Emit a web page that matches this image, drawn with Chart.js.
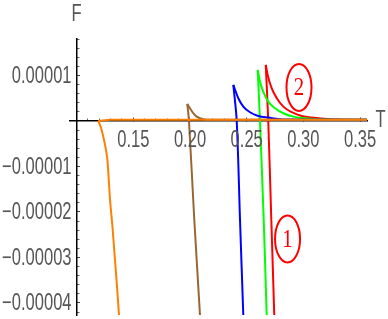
<!DOCTYPE html>
<html>
<head>
<meta charset="utf-8">
<script src="https://cdn.jsdelivr.net/npm/chart.js@4/dist/chart.umd.min.js"></script>
<style>
html, body { margin: 0; padding: 0; background: #fff; }
canvas { display: block; }
</style>
</head>
<body>
<canvas id="fchart" width="388" height="319"></canvas>
<script>
// values: T on the x axis, F on the y axis
// each colour = a steep branch (peak -> bottom) and a tail (peak -> right end)
var orangeSteepT = [0.1191, 0.1206, 0.1221, 0.1242, 0.1259, 0.1272, 0.1295, 0.1315, 0.1332, 0.1352, 0.1374, 0.1378];
var orangeSteepF = [0, -0.88e-6, -1.98e-6, -4.18e-6, -6.37e-6, -8.57e-6, -1.736e-5, -2.286e-5, -2.835e-5, -3.495e-5, -4.264e-5, -4.48e-5];
var orangeTailT = [0.1191, 0.13, 0.356];
var orangeTailF = [0, 2.5e-7, 2.5e-7];

var brownSteepT = [0.1976, 0.1991, 0.2038, 0.2088, 0.2091];
var brownSteepF = [3.74e-6, 0, -2.176e-5, -4.264e-5, -4.48e-5];
var brownTailT = [0.1976, 0.2005, 0.2034, 0.2059, 0.2117, 0.2205, 0.356];
var brownTailF = [3.74e-6, 2.57e-6, 1.54e-6, 9.45e-7, 3.7e-7, 2.5e-7, 2.5e-7];

var blueSteepT = [0.2382, 0.2412, 0.2441, 0.2470, 0.2473];
var blueSteepF = [7.91e-6, 0, -2.176e-5, -4.264e-5, -4.48e-5];
var blueTailT = [0.2382, 0.2426, 0.2470, 0.2529, 0.2602, 0.2690, 0.2838, 0.356];
var blueTailF = [7.91e-6, 4.99e-6, 3.14e-6, 1.91e-6, 1.10e-6, 7.3e-7, 3.0e-7, 2.5e-7];

var greenSteepT = [0.2597, 0.2617, 0.2650, 0.2676, 0.2678];
var greenSteepF = [1.121e-5, 0, -2.176e-5, -4.264e-5, -4.48e-5];
var greenTailT = [0.2597, 0.2617, 0.2646, 0.2690, 0.2750, 0.2823, 0.2911, 0.3014, 0.3146, 0.356];
var greenTailF = [1.121e-5, 8.64e-6, 6.44e-6, 4.24e-6, 2.79e-6, 1.69e-6, 9.45e-7, 5.9e-7, 3.2e-7, 2.5e-7];

var redSteepT = [0.2668, 0.2690, 0.2717, 0.2743, 0.2745];
var redSteepF = [1.231e-5, 0, -2.176e-5, -4.264e-5, -4.48e-5];
var redTailT = [0.2668, 0.2685, 0.2720, 0.2765, 0.2823, 0.2897, 0.2985, 0.3073, 0.3235, 0.356];
var redTailF = [1.231e-5, 1.011e-5, 7.19e-6, 4.99e-6, 3.14e-6, 1.91e-6, 1.10e-6, 7.3e-7, 3.8e-7, 2.5e-7];

// axes
var xMin = 0.0942, xMax = 0.3565, yMin = -4.264e-5, yMax = 1.80e-5;
var xTickValues = [0.15, 0.20, 0.25, 0.30, 0.35];
var xTickLabels = ['0.15', '0.20', '0.25', '0.30', '0.35'];
var yTickValues = [1e-5, -1e-5, -2e-5, -3e-5, -4e-5];
var yTickLabels = ['0.00001', '\u22120.00001', '\u22120.00002', '\u22120.00003', '\u22120.00004'];

// circled curve numbers
var noteLabels = ['1', '2'];
var noteT = [0.2860, 0.2961];
var noteF = [-2.593e-5, 0.736e-5];

var minorX = [];
for (var i = 11; i <= 35; i++) { if (i % 5 != 0) minorX.push(i / 100); }
var minorY = [];
for (var j = -21; j <= 9; j++) { if (j % 5 != 0) minorY.push(j * 2e-6); }

function pts(ts, fs) {
  return ts.map(function (t, k) { return { x: t, y: fs[k] }; });
}

function steep(ts, fs, col) {
  return { data: pts(ts, fs), borderColor: col, borderWidth: 2, pointRadius: 0, showLine: true, tension: 0.3, fill: false };
}
function tail(ts, fs, col) {
  return { data: pts(ts, fs), borderColor: col, borderWidth: 2, pointRadius: 0, showLine: true, cubicInterpolationMode: 'monotone', fill: false };
}

// squeezed text, the picture's type is narrow
function squeezed(ctx, text, x, y, align, sx) {
  ctx.save();
  ctx.translate(x, y);
  ctx.scale(sx, 1);
  ctx.textAlign = align;
  ctx.fillText(text, 0, 0);
  ctx.restore();
}

var textPlugin = {
  id: 'mmaText',
  afterDraw: function (chart) {
    var ctx = chart.ctx, xs = chart.scales.x, ys = chart.scales.y;
    var y0 = ys.getPixelForValue(0), x0 = xs.getPixelForValue(0.10);
    ctx.save();
    ctx.fillStyle = '#555555';
    ctx.textBaseline = 'middle';
    ctx.font = '23px "Liberation Sans", Arial, sans-serif';
    xTickValues.forEach(function (v, k) {
      squeezed(ctx, xTickLabels[k], xs.getPixelForValue(v), y0 + 20, 'center', 0.72);
    });
    yTickValues.forEach(function (v, k) {
      squeezed(ctx, yTickLabels[k], x0 - 5, ys.getPixelForValue(v) + 1, 'right', 0.72);
    });
    squeezed(ctx, 'F', x0, 15, 'center', 0.72);
    squeezed(ctx, 'T', xs.right + 13, y0, 'center', 0.72);

    ctx.strokeStyle = '#ff0000';
    ctx.fillStyle = '#ff0000';
    ctx.lineWidth = 2;
    ctx.font = '26px "Liberation Serif", "Times New Roman", serif';
    noteLabels.forEach(function (lab, k) {
      var cx = xs.getPixelForValue(noteT[k]), cy = ys.getPixelForValue(noteF[k]);
      ctx.beginPath();
      ctx.ellipse(cx, cy, 12.5, 23.5, 0, 0, Math.PI * 2);
      ctx.stroke();
      squeezed(ctx, lab, cx, cy + 1, 'center', 0.8);
    });
    ctx.restore();
  }
};

const ctx = document.getElementById('fchart');

var fChart = new Chart(ctx, {
  type: 'scatter',
  data: {
    datasets: [
      tail(orangeTailT, orangeTailF, '#ff8000'),
      steep(orangeSteepT, orangeSteepF, '#ff8000'),
      tail(brownTailT, brownTailF, '#996633'),
      steep(brownSteepT, brownSteepF, '#996633'),
      tail(blueTailT, blueTailF, '#0000ff'),
      steep(blueSteepT, blueSteepF, '#0000ff'),
      tail(greenTailT, greenTailF, '#00ff00'),
      steep(greenSteepT, greenSteepF, '#00ff00'),
      tail(redTailT, redTailF, '#ff0000'),
      steep(redSteepT, redSteepF, '#ff0000')
    ]
  },
  options: {
    responsive: false,
    animation: false,
    devicePixelRatio: 1,
    layout: { padding: { left: 70, right: 20.5, top: 39, bottom: 4 } },
    plugins: { legend: { display: false }, tooltip: { enabled: false }, title: { display: false } },
    scales: {
      x: {
        type: 'linear', position: { y: 0 }, min: xMin, max: xMax,
        afterBuildTicks: function (s) { s.ticks = xTickValues.map(function (v) { return { value: v }; }); },
        ticks: { display: false },
        grid: { drawOnChartArea: false, drawTicks: true, tickLength: -4, color: '#444' },
        border: { display: true, color: '#000', width: 1.5 }
      },
      x2: {
        type: 'linear', axis: 'x', position: { y: 0 }, min: xMin, max: xMax,
        afterBuildTicks: function (s) { s.ticks = minorX.map(function (v) { return { value: v }; }); },
        ticks: { display: false },
        grid: { drawOnChartArea: false, drawTicks: true, tickLength: -2.5, color: '#666' },
        border: { display: false }
      },
      y: {
        type: 'linear', position: { x: 0.10 }, min: yMin, max: yMax,
        afterBuildTicks: function (s) { s.ticks = yTickValues.map(function (v) { return { value: v }; }); },
        ticks: { display: false },
        grid: { drawOnChartArea: false, drawTicks: true, tickLength: -4, color: '#444' },
        border: { display: true, color: '#000', width: 1.5 }
      },
      y2: {
        type: 'linear', axis: 'y', position: { x: 0.10 }, min: yMin, max: yMax,
        afterBuildTicks: function (s) { s.ticks = minorY.map(function (v) { return { value: v }; }); },
        ticks: { display: false },
        grid: { drawOnChartArea: false, drawTicks: true, tickLength: -2.5, color: '#666' },
        border: { display: false }
      }
    }
  },
  plugins: [textPlugin]
});
</script>
</body>
</html>
